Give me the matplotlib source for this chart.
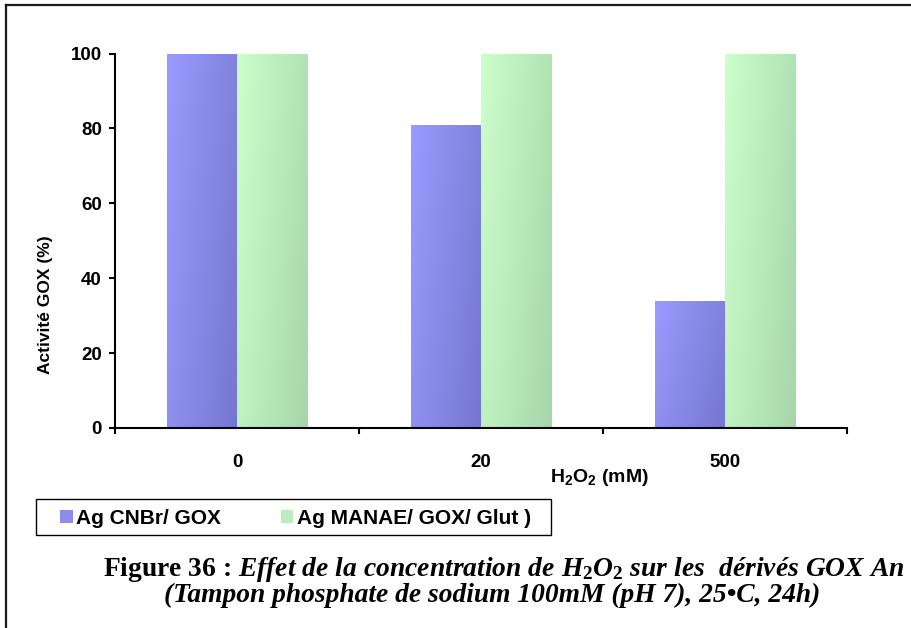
import numpy as np
import matplotlib
matplotlib.use("Agg")
import matplotlib.pyplot as plt
from matplotlib.patches import Patch, Rectangle
from matplotlib.lines import Line2D

# Data
categories = ["0", "20", "500"]
series_names = ["Ag CNBr/ GOX", "Ag MANAE/ GOX/ Glut )"]
cnbr = [100, 81, 34]
manae = [100, 100, 100]
yticks = [0, 20, 40, 60, 80, 100]

plt.rcParams["font.family"] = ["Liberation Sans", "DejaVu Sans"]
plt.rcParams["mathtext.fontset"] = "custom"
plt.rcParams["mathtext.it"] = "Liberation Serif:italic:bold"
plt.rcParams["mathtext.rm"] = "Liberation Serif:bold"
plt.rcParams["mathtext.default"] = "regular"

W, H = 911, 628
fig = plt.figure(figsize=(W / 100, H / 100), dpi=100)
ax = fig.add_axes([115 / W, 1 - 428 / H, (847 - 115) / W, (428 - 53.5) / H])

BLUE_L, BLUE_D = (155 / 255, 155 / 255, 1.0), (118 / 255, 118 / 255, 208 / 255)
GREEN_L, GREEN_D = (204 / 255, 1.0, 204 / 255), (166 / 255, 214 / 255, 170 / 255)


def gradient_fill(ax, bar, c0, c1):
    """Fill a bar with a diagonal gradient (light top-left, dark bottom-right)."""
    x0, y0 = bar.get_x(), bar.get_y()
    w, h = bar.get_width(), bar.get_height()
    u = np.linspace(0, 1, 64)
    v = np.linspace(0, 1, 64)
    U, V = np.meshgrid(u, v)
    T = 0.7 * U + 0.3 * (1 - V)
    c0 = np.array(c0)
    c1 = np.array(c1)
    img = c0 + (c1 - c0) * T[..., None]
    im = ax.imshow(img, extent=(x0, x0 + w, y0, y0 + h), origin="lower",
                   aspect="auto", interpolation="bilinear", zorder=2)
    im.set_clip_path(bar)


x = np.arange(len(categories))
bw = 0.287
off = 0.143
bars1 = ax.bar(x - off, cnbr, bw, facecolor="none", edgecolor="none", zorder=2)
bars2 = ax.bar(x + off, manae, bw, facecolor="none", edgecolor="none", zorder=2)
for b in bars1:
    gradient_fill(ax, b, BLUE_L, BLUE_D)
for b in bars2:
    gradient_fill(ax, b, GREEN_L, GREEN_D)

ax.set_xlim(-0.5, len(categories) - 0.5)
ax.set_ylim(0, 100)
ax.spines["top"].set_visible(False)
ax.spines["right"].set_visible(False)
for s in ("left", "bottom"):
    ax.spines[s].set_linewidth(1.5)

ax.set_xticks(x)
ax.set_xticklabels(categories, fontsize=13.5, fontweight="bold")
ax.set_xticks(np.arange(len(categories) + 1) - 0.5, minor=True)
ax.tick_params(axis="x", which="major", length=0, pad=18.5)
ax.tick_params(axis="x", which="minor", length=4.5, width=1.5, direction="out")
ax.set_yticks(yticks)
ax.set_yticklabels([str(t) for t in yticks], fontsize=13.5, fontweight="bold")
ax.tick_params(axis="y", length=4.5, width=1.5, direction="out", pad=5)

fig.text(46 / W, 1 - 305 / H, "Activité GOX (%)", rotation=90, fontsize=12.5,
         fontweight="bold", ha="center", va="center")
fig.text(599 / W, 1 - 477 / H, "H$_2$O$_2$ (mM)", fontsize=14,
         fontweight="bold", ha="center", va="center")

# Legend
handles = [Patch(facecolor=(140 / 255, 140 / 255, 235 / 255)),
           Patch(facecolor=(188 / 255, 236 / 255, 190 / 255))]
fig.legend(handles, series_names, loc="center left",
           bbox_to_anchor=(60 / W, 1 - 518 / H), frameon=False, ncol=2,
           prop={"size": 15, "weight": "bold"}, handlelength=0.6,
           handleheight=0.6, handletextpad=0.15, columnspacing=2.9,
           borderpad=0, borderaxespad=0)
fig.add_artist(Rectangle((36 / W, 1 - 535 / H), (551 - 36) / W, 36 / H,
                         transform=fig.transFigure, fill=False,
                         edgecolor="black", lw=1))

# Page frame
fig.add_artist(Line2D([6 / W, 6 / W], [0, 1 - 5 / H], transform=fig.transFigure,
                      color="#1a1a1a", lw=1.6))
fig.add_artist(Line2D([6 / W, 1], [1 - 5 / H, 1 - 5 / H], transform=fig.transFigure,
                      color="#1a1a1a", lw=1.6))

# Caption
fig.text(504 / W, 1 - 569 / H,
         r"Figure 36 : $\mathit{Effet\ de\ la\ concentration\ de\ H_2O_2\ sur\ les\ \ dérivés\ GOX\ An}$",
         family="Liberation Serif", weight="bold", size=19.8, ha="center", va="center")
fig.text(492 / W, 1 - 595 / H,
         "(Tampon phosphate de sodium 100mM (pH 7), 25•C, 24h)",
         family="Liberation Serif", style="italic", weight="bold", size=19.8,
         ha="center", va="center")

fig.savefig("out.png", dpi=100)
